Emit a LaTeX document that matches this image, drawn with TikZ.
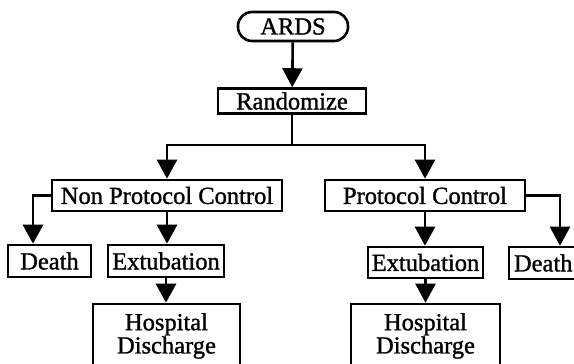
\documentclass[tikz,border=0pt]{standalone}
\usepackage{fontspec}
\setmainfont{Liberation Serif}
\newfontfamily\heavyserif{Liberation Serif}[FakeBold=1.2]
\usetikzlibrary{arrows.meta}
\begin{document}
\begin{tikzpicture}[x=1pt,y=-1pt,
  every node/.style={font=\heavyserif\fontsize{24.5}{24}\selectfont},
  box/.style={draw, line width=2.6pt, inner sep=0pt, rectangle},
  arr/.style={line width=2.6pt, -{Triangle[width=20pt,length=19pt]}},
  ln/.style={line width=2.6pt}]
\useasboundingbox (0,0) rectangle (574,364);
\clip (0,0) rectangle (574,364);
\node[box, rounded corners=14pt, minimum width=110pt, minimum height=29pt] (ards) at (293,26.5) {ARDS};
\node[box, minimum width=148pt, minimum height=25pt] (rand) at (292,101) {Randomize};
\node[box, minimum width=230pt, minimum height=31pt] (npc) at (167,195.5) {Non Protocol Control};
\node[box, minimum width=200pt, minimum height=31pt] (pc) at (425,195.5) {Protocol Control};
\node[box, minimum width=83pt, minimum height=32pt] (deathL) at (49.5,261) {Death};
\node[box, minimum width=116pt, minimum height=32pt] (extL) at (166,261) {Extubation};
\node[box, minimum width=115pt, minimum height=31pt] (extR) at (425.5,262.5) {Extubation};
\node[box, minimum width=83pt, minimum height=32pt, text width=83pt, align=left] (deathR) at (550.5,263) {\hspace{5pt}Death};
\node[box, minimum width=147pt, minimum height=90pt,
  label={[anchor=north, align=center, yshift=-7pt, font=\heavyserif\fontsize{24.5}{22}\selectfont]north:Hospital\\Discharge}] (hdL) at (166.5,349) {};
\node[box, minimum width=149pt, minimum height=90pt,
  label={[anchor=north, align=center, yshift=-7pt, font=\heavyserif\fontsize{24.5}{22}\selectfont]north:Hospital\\Discharge}] (hdR) at (425.5,349) {};
\coordinate (split) at (292,145);
\draw[arr] (ards) -- (rand);
\draw[ln] (rand.south) -- (split);
\draw[arr] (split) -| (npc.north);
\draw[arr] (split) -| (pc.north);
\draw[arr] (npc.west) -| ([xshift=-16.5pt]deathL.north);
\draw[arr] (npc.south) -- (npc.south |- extL.north);
\draw[arr] (pc.east) -| ([xshift=9.5pt]deathR.north);
\draw[arr] (pc.south) -- (pc.south |- extR.north);
\draw[arr] (extL.south) -- (extL.south |- hdL.north);
\draw[arr] (extR.south) -- (extR.south |- hdR.north);
\end{tikzpicture}
\end{document}
